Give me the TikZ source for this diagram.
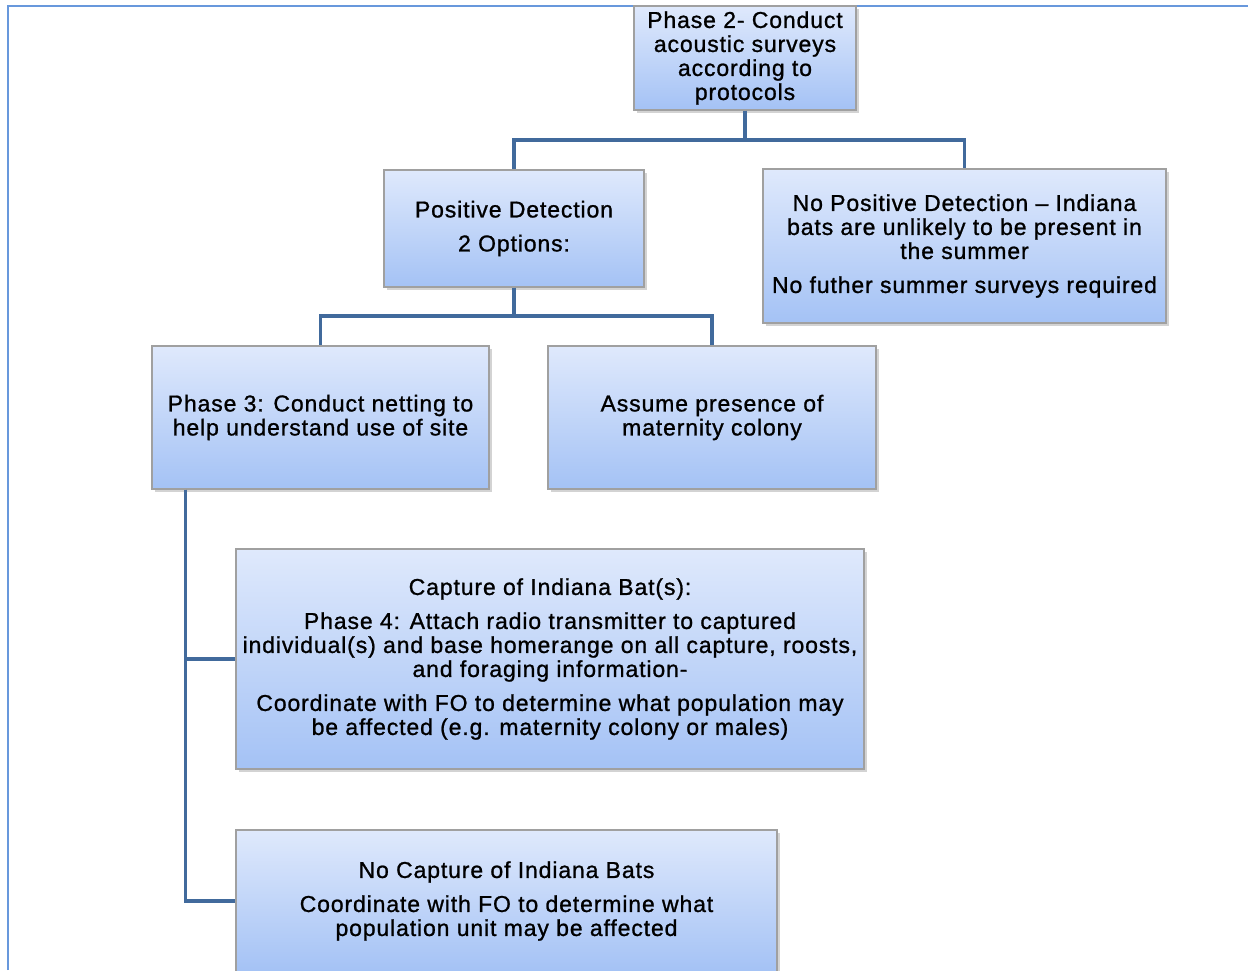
\documentclass[tikz,border=0pt]{standalone}
\usepackage{fontspec}
\setmainfont{Liberation Sans}[LetterSpace=3.8,FakeBold=1.0]
\usetikzlibrary{shadows}
\definecolor{boxtop}{RGB}{223,233,252}
\definecolor{boxbot}{RGB}{164,194,245}
\definecolor{boxedge}{RGB}{160,160,160}
\definecolor{conncol}{RGB}{65,106,156}
\definecolor{framecol}{RGB}{104,152,220}
\tikzset{
  box/.style={rectangle, draw=boxedge, line width=0.8pt, top color=boxtop, bottom color=boxbot,
    inner sep=0pt, align=center, text=black,
    font=\fontsize{17.25pt}{18pt}\selectfont,
    execute at begin node={\rule{0pt}{16.6pt}},
    drop shadow={shadow xshift=2pt, shadow yshift=-2pt, opacity=0.35}},
  conn/.style={draw=conncol, line width=2.4pt},
  frameline/.style={draw=framecol, line width=1.2pt}
}
\begin{document}
\begin{tikzpicture}[x=0.75pt,y=-0.75pt]
\useasboundingbox (0,0) rectangle (1248,970);
\draw[frameline] (8,970) -- (8,6) -- (1248,6);

\node[box, minimum width=222*0.75pt, minimum height=104*0.75pt] (p2) at (745,58)
  {Phase 2- Conduct\\acoustic surveys\\according to\\protocols};
\node[box, minimum width=260*0.75pt, minimum height=117*0.75pt] (pos) at (514,228.5)
  {Positive Detection\\[7.5pt]2 Options:};
\node[box, minimum width=403*0.75pt, minimum height=154*0.75pt] (nopos) at (964.5,246)
  {No Positive Detection -- Indiana\\bats are unlikely to be present in\\the summer\\[7.5pt]No futher summer surveys required};
\node[box, minimum width=337*0.75pt, minimum height=143*0.75pt] (ph3) at (320.5,417.5)
  {Phase 3: Conduct netting to\\help understand use of site};
\node[box, minimum width=328*0.75pt, minimum height=143*0.75pt] (assume) at (712,417.5)
  {Assume presence of\\maternity colony};
\node[box, minimum width=628*0.75pt, minimum height=220*0.75pt] (cap) at (550,659)
  {Capture of Indiana Bat(s):\\[7.5pt]Phase 4: Attach radio transmitter to captured\\individual(s) and base homerange on all capture, roosts,\\and foraging information-\\[7.5pt]Coordinate with FO to determine what population may\\be affected (e.g. maternity colony or males)};
\node[box, minimum width=541*0.75pt, minimum height=142*0.75pt] (nocap) at (506.5,901)
  {No Capture of Indiana Bats\\[7.5pt]Coordinate with FO to determine what\\population unit may be affected};

\coordinate (j1) at (745,140);
\coordinate (j2) at (514,316);
\draw[conn] (p2.south) -- (j1);
\draw[conn] (j1) -| (pos.north);
\draw[conn] (j1) -| (nopos.north);
\draw[conn] (pos.south) -- (j2);
\draw[conn] (j2) -| (ph3.north);
\draw[conn] (j2) -| (assume.north);
\coordinate (j3) at ([xshift=34*0.75pt]ph3.south west);
\draw[conn] (j3) |- (nocap.west);
\draw[conn] (j3) |- (cap.west);
\end{tikzpicture}
\end{document}
